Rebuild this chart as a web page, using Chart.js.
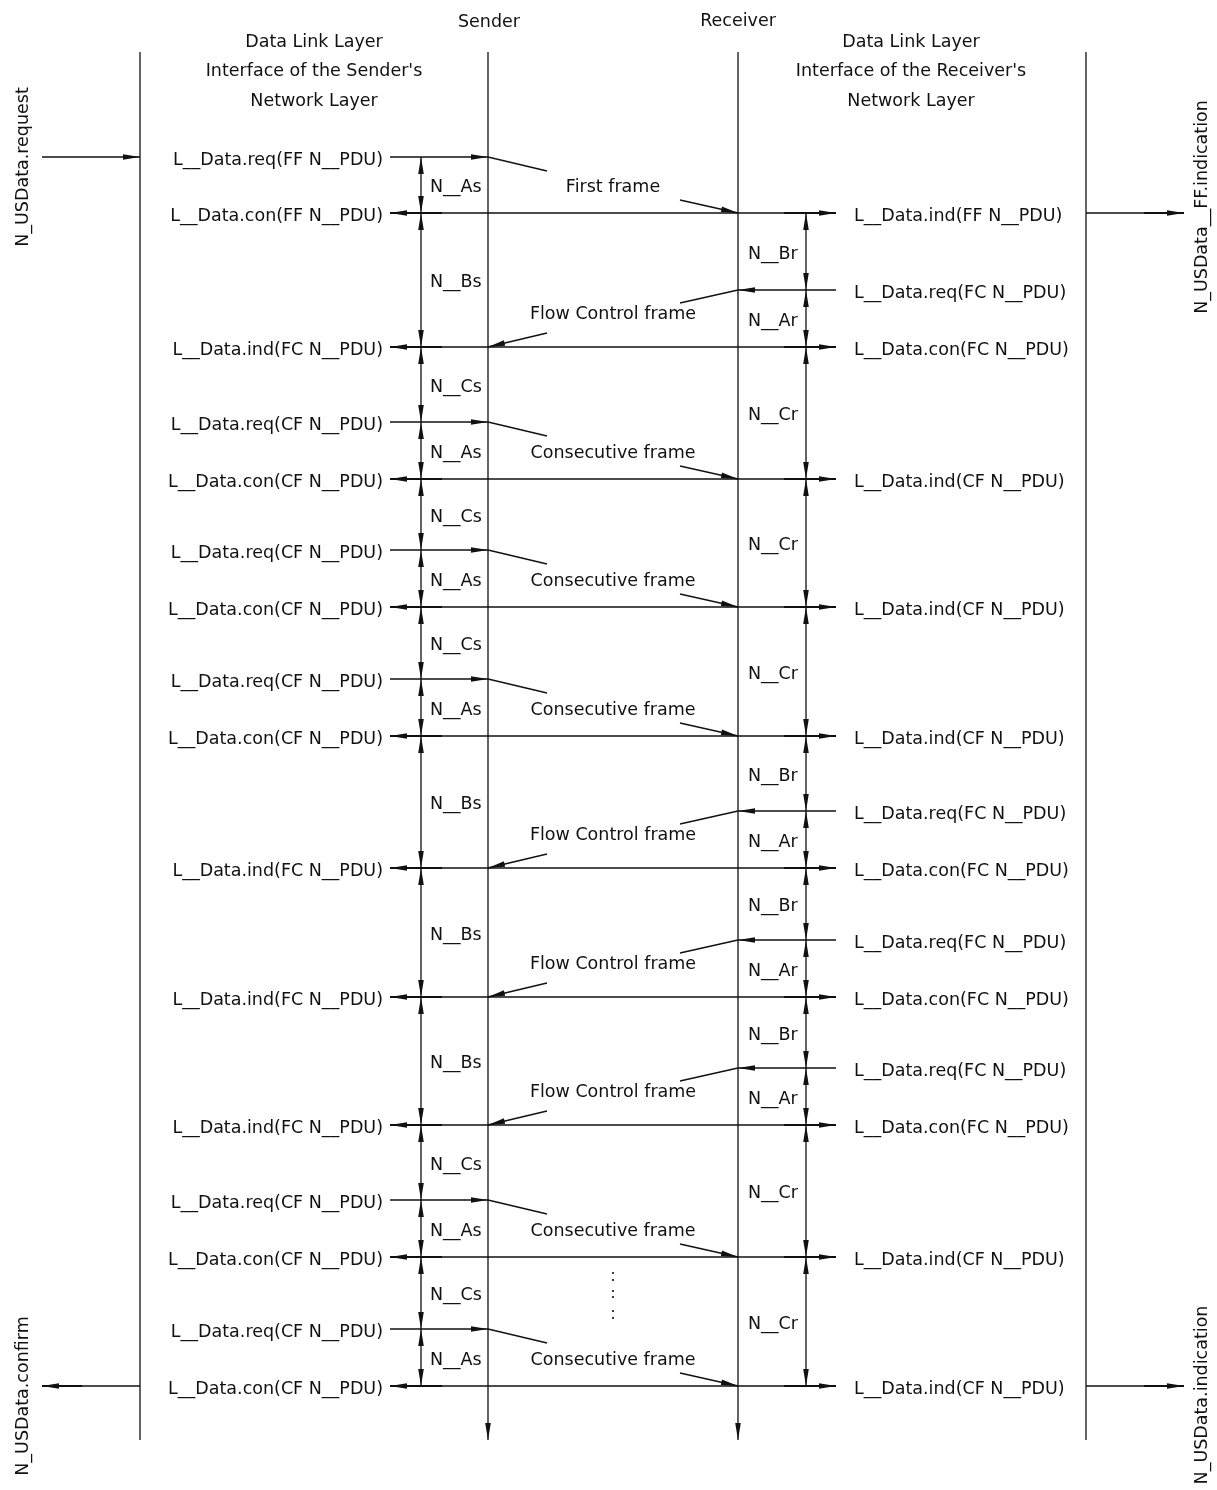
<!DOCTYPE html>
<html>
<head>
<meta charset="utf-8">
<title>Segmented N_USData transfer</title>
<script src="https://cdn.jsdelivr.net/npm/chart.js@4.4.1/dist/chart.umd.min.js"></script>
<style>
  html, body { margin: 0; padding: 0; background: #fff; }
  #wrap { width: 1217px; height: 1490px; }
</style>
</head>
<body>
<div id="wrap"><canvas id="seqChart"></canvas></div>
<script>
// lifelines: sender interface, sender, receiver, receiver interface
const lifelineX = [140, 488, 738, 1086];
const lifelineTop = 52;
const lifelineBottom = 1440;

// message rows, top to bottom
// S = sender request, T = frame delivered (con/ind on both sides), R = receiver request
const rowY = [157, 213, 290, 347, 422, 479, 550, 607, 679, 736, 811, 868, 940, 997, 1068, 1125, 1200, 1257, 1329, 1386];
const rowKind = ['S', 'T', 'R', 'T', 'S', 'T', 'S', 'T', 'S', 'T', 'R', 'T', 'R', 'T', 'R', 'T', 'S', 'T', 'S', 'T'];
const senderLabels = [
  'L__Data.req(FF N__PDU)', 'L__Data.con(FF N__PDU)', '', 'L__Data.ind(FC N__PDU)',
  'L__Data.req(CF N__PDU)', 'L__Data.con(CF N__PDU)', 'L__Data.req(CF N__PDU)', 'L__Data.con(CF N__PDU)',
  'L__Data.req(CF N__PDU)', 'L__Data.con(CF N__PDU)', '', 'L__Data.ind(FC N__PDU)',
  '', 'L__Data.ind(FC N__PDU)', '', 'L__Data.ind(FC N__PDU)',
  'L__Data.req(CF N__PDU)', 'L__Data.con(CF N__PDU)', 'L__Data.req(CF N__PDU)', 'L__Data.con(CF N__PDU)'
];
const receiverLabels = [
  '', 'L__Data.ind(FF N__PDU)', 'L__Data.req(FC N__PDU)', 'L__Data.con(FC N__PDU)',
  '', 'L__Data.ind(CF N__PDU)', '', 'L__Data.ind(CF N__PDU)',
  '', 'L__Data.ind(CF N__PDU)', 'L__Data.req(FC N__PDU)', 'L__Data.con(FC N__PDU)',
  'L__Data.req(FC N__PDU)', 'L__Data.con(FC N__PDU)', 'L__Data.req(FC N__PDU)', 'L__Data.con(FC N__PDU)',
  '', 'L__Data.ind(CF N__PDU)', '', 'L__Data.ind(CF N__PDU)'
];

// frames on the bus: [request row, delivery row, name]
const frames = [
  [0, 1, 'First frame'], [2, 3, 'Flow Control frame'], [4, 5, 'Consecutive frame'],
  [6, 7, 'Consecutive frame'], [8, 9, 'Consecutive frame'], [10, 11, 'Flow Control frame'],
  [12, 13, 'Flow Control frame'], [14, 15, 'Flow Control frame'], [16, 17, 'Consecutive frame'],
  [18, 19, 'Consecutive frame']
];

// timing parameters: [from row, to row, name]
const senderTimers = [
  [0, 1, 'N__As'], [1, 3, 'N__Bs'], [3, 4, 'N__Cs'], [4, 5, 'N__As'], [5, 6, 'N__Cs'],
  [6, 7, 'N__As'], [7, 8, 'N__Cs'], [8, 9, 'N__As'], [9, 11, 'N__Bs'], [11, 13, 'N__Bs'],
  [13, 15, 'N__Bs'], [15, 16, 'N__Cs'], [16, 17, 'N__As'], [17, 18, 'N__Cs'], [18, 19, 'N__As']
];
const receiverTimers = [
  [1, 2, 'N__Br'], [2, 3, 'N__Ar'], [3, 5, 'N__Cr'], [5, 7, 'N__Cr'], [7, 9, 'N__Cr'],
  [9, 10, 'N__Br'], [10, 11, 'N__Ar'], [11, 12, 'N__Br'], [12, 13, 'N__Ar'], [13, 14, 'N__Br'],
  [14, 15, 'N__Ar'], [15, 17, 'N__Cr'], [17, 19, 'N__Cr']
];

// service primitives at the network layer: [row, side, name]
const services = [
  [0, 'in', 'N_USData.request'],
  [1, 'out', 'N_USData__FF.indication'],
  [19, 'back', 'N_USData.confirm'],
  [19, 'out', 'N_USData.indication']
];

const headerLeft = ['Data Link Layer', "Interface of the Sender's", 'Network Layer'];
const headerRight = ['Data Link Layer', "Interface of the Receiver's", 'Network Layer'];

// "more frames" ellipsis
const ellipsisY = [1273, 1280, 1291, 1297, 1311, 1318];

// ---- layout ----
const FONT = '17.5px "DejaVu Sans"';
const INK = '#111';
const sLabelX = 383, sStubX = 390, rStubX = 836, rLabelX = 854;
const sTimerX = 421, rTimerX = 806, frameLabelX = 613;
const svcOuterL = 42, svcOuterR = 1184;

const datasets = [];
const arrows = [];
const texts = [];

function seg(x1, y1, x2, y2, w) {
  datasets.push({
    data: [{ x: x1, y: y1 }, { x: x2, y: y2 }],
    showLine: true,
    borderColor: INK,
    borderWidth: w || 1.3,
    pointRadius: 0,
    pointHoverRadius: 0,
    fill: false
  });
}
function arrow(fx, fy, tx, ty) { arrows.push([fx, fy, tx, ty]); }
function label(text, x, y, align, rot) { if (text) texts.push({ text, x, y, align, rot: rot || 0 }); }

lifelineX.forEach((x, i) => {
  seg(x, lifelineTop, x, lifelineBottom);
  if (i === 1 || i === 2) arrow(x, lifelineTop, x, lifelineBottom);
});

rowY.forEach((y, i) => {
  const k = rowKind[i];
  if (k === 'S') {
    seg(sStubX, y, lifelineX[1], y);
    arrow(sStubX, y, lifelineX[1], y);
  } else if (k === 'R') {
    seg(rStubX, y, lifelineX[2], y);
    arrow(rStubX, y, lifelineX[2], y);
  } else {
    seg(sStubX, y, rStubX, y);
    seg(sStubX, y, sStubX + 52, y, 2);
    seg(rStubX - 52, y, rStubX, y, 2);
    arrow(lifelineX[1], y, sStubX, y);
    arrow(lifelineX[2], y, rStubX, y);
  }
  label(senderLabels[i], sLabelX, y + 8, 'right');
  label(receiverLabels[i], rLabelX, y + 8, 'left');
});

frames.forEach(([a, b, name]) => {
  const y1 = rowY[a], y2 = rowY[b];
  if (rowKind[a] === 'S') {
    seg(lifelineX[1], y1, 547, y1 + 14);
    seg(680, y2 - 13, lifelineX[2], y2);
    arrow(680, y2 - 13, lifelineX[2], y2);
    label(name, frameLabelX, y2 - 28 + 6.5, 'center');
  } else {
    seg(lifelineX[2], y1, 680, y1 + 13);
    seg(547, y2 - 14, lifelineX[1], y2);
    arrow(547, y2 - 14, lifelineX[1], y2);
    label(name, frameLabelX, y2 - 35 + 6.5, 'center');
  }
});

function timers(list, x, lx) {
  list.forEach(([a, b, name]) => {
    const y1 = rowY[a], y2 = rowY[b];
    seg(x, y1, x, y2);
    arrow(x, y2, x, y1);
    arrow(x, y1, x, y2);
    label(name, lx, (y1 + y2) / 2 + 7, 'left');
  });
}
timers(senderTimers, sTimerX, 430);
timers(receiverTimers, rTimerX, 748);

services.forEach(([r, side, name]) => {
  const y = rowY[r];
  if (side === 'in') {
    seg(svcOuterL, y, lifelineX[0], y);
    arrow(svcOuterL, y, lifelineX[0], y);
  } else if (side === 'back') {
    seg(lifelineX[0], y, svcOuterL, y);
    seg(svcOuterL, y, svcOuterL + 40, y, 2);
    arrow(lifelineX[0], y, svcOuterL, y);
  } else {
    seg(lifelineX[3], y, svcOuterR, y);
    seg(svcOuterR - 40, y, svcOuterR, y, 2);
    arrow(lifelineX[3], y, svcOuterR, y);
  }
});
// rotated service names, reading bottom to top
label(services[0][2], 23, 167, 'center', 1);
label(services[1][2], 1202, 207, 'center', 1);
label(services[2][2], 23, 1396, 'center', 1);
label(services[3][2], 1202, 1395, 'center', 1);

label('Sender', lifelineX[1] + 1, 27, 'center');
label('Receiver', lifelineX[2], 26, 'center');
headerLeft.forEach((t, i) => label(t, 314, [47, 76, 106][i], 'center'));
headerRight.forEach((t, i) => label(t, 911, [47, 76, 106][i], 'center'));

datasets.push({
  data: ellipsisY.map(y => ({ x: frameLabelX, y })),
  showLine: false,
  pointRadius: 1.1,
  pointHoverRadius: 0,
  pointBackgroundColor: INK,
  pointBorderWidth: 0
});

const drawing = {
  id: 'drawing',
  afterDatasetsDraw(chart) {
    const ctx = chart.ctx;
    const xs = chart.scales.x, ys = chart.scales.y;
    ctx.save();
    ctx.fillStyle = INK;
    arrows.forEach(([fx, fy, tx, ty]) => {
      const px = xs.getPixelForValue(tx), py = ys.getPixelForValue(ty);
      const qx = xs.getPixelForValue(fx), qy = ys.getPixelForValue(fy);
      const a = Math.atan2(py - qy, px - qx);
      ctx.save();
      ctx.translate(px, py);
      ctx.rotate(a);
      ctx.beginPath();
      ctx.moveTo(0, 0);
      ctx.lineTo(-17, -2.8);
      ctx.lineTo(-17, 2.8);
      ctx.closePath();
      ctx.fill();
      ctx.restore();
    });
    ctx.font = FONT;
    ctx.textBaseline = 'alphabetic';
    texts.forEach(t => {
      const px = xs.getPixelForValue(t.x), py = ys.getPixelForValue(t.y);
      ctx.save();
      ctx.translate(px, py);
      if (t.rot) {
        ctx.rotate(-Math.PI / 2);
        ctx.textBaseline = 'middle';
      }
      ctx.textAlign = t.align;
      ctx.fillText(t.text, 0, 0);
      ctx.restore();
    });
    ctx.restore();
  }
};

new Chart(document.getElementById('seqChart'), {
  type: 'scatter',
  data: { datasets },
  options: {
    responsive: true,
    maintainAspectRatio: false,
    animation: false,
    events: [],
    layout: { padding: 0, autoPadding: false },
    plugins: { legend: { display: false }, tooltip: { enabled: false } },
    scales: {
      x: { type: 'linear', min: 0, max: 1217, display: false },
      y: { type: 'linear', min: 0, max: 1490, reverse: true, display: false }
    }
  },
  plugins: [drawing]
});
</script>
</body>
</html>
